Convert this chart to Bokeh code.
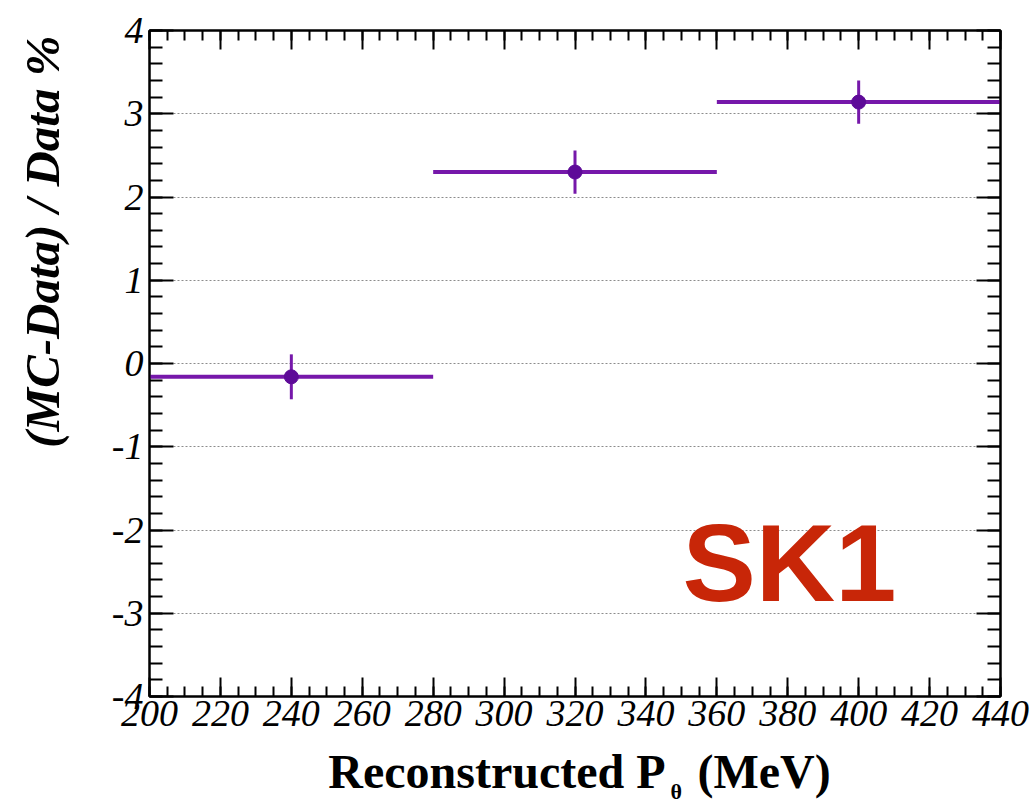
from bokeh.plotting import figure
from bokeh.models import Range1d, FixedTicker, LinearAxis, Title
from bokeh.layouts import column
from bokeh.core.properties import value
from bokeh.embed import file_html
from bokeh.resources import INLINE

# ---- data ----
bin_lo = [200, 280, 360]
bin_hi = [280, 360, 440]
bin_center = [240, 320, 400]
ratio = [-0.16, 2.30, 3.14]
ratio_err = [0.27, 0.26, 0.26]

x_major = list(range(200, 441, 20))
x_minor = list(range(200, 441, 5))
y_major = list(range(-4, 5))
y_minor = [round(-4 + 0.2 * i, 1) for i in range(41)]
y_labels = {t: str(t) for t in y_major}  # ASCII hyphen minus like the original

PURPLE = "#7618aa"
RED = "#c82608"
SERIF = "Liberation Serif"

MAIN_H = 744
p = figure(width=1033, height=MAIN_H, output_backend="svg", toolbar_location=None,
           x_range=Range1d(200, 440), y_range=Range1d(-4, 4),
           min_border_left=149, min_border_right=33, min_border_top=30,
           min_border_bottom=MAIN_H - 696,
           background_fill_color="white", border_fill_color="white")
p.outline_line_color = "black"
p.outline_line_width = 2

# axes
p.xaxis.ticker = FixedTicker(ticks=x_major, minor_ticks=x_minor)
p.yaxis.ticker = FixedTicker(ticks=y_major, minor_ticks=y_minor)
p.yaxis.major_label_overrides = y_labels
for ax in (p.xaxis[0], p.yaxis[0]):
    ax.axis_line_color = "black"
    ax.axis_line_width = 2
    ax.major_tick_out = 0
    ax.minor_tick_out = 0
    ax.major_tick_line_color = "black"
    ax.minor_tick_line_color = "black"
    ax.major_tick_line_width = 2
    ax.minor_tick_line_width = 2
    ax.major_label_text_font = SERIF
    ax.major_label_text_font_style = "italic"
    ax.major_label_text_font_size = "38px"
    ax.major_label_text_color = "black"
p.xaxis.major_tick_in = 19
p.xaxis.minor_tick_in = 10
p.yaxis.major_tick_in = 24
p.yaxis.minor_tick_in = 13
p.xaxis.major_label_standoff = 4
p.yaxis.major_label_standoff = 6

top_ax = LinearAxis(ticker=FixedTicker(ticks=x_major, minor_ticks=x_minor),
                    major_label_text_font_size="1px", major_label_text_color=None,
                    major_label_text_alpha=0, major_label_standoff=0,
                    major_tick_out=0, minor_tick_out=0,
                    major_tick_in=19, minor_tick_in=10, major_tick_line_width=2,
                    minor_tick_line_width=2, axis_line_width=2)
right_ax = LinearAxis(ticker=FixedTicker(ticks=y_major, minor_ticks=y_minor),
                      major_label_text_font_size="1px", major_label_text_color=None,
                      major_label_text_alpha=0, major_label_standoff=0,
                      major_tick_out=0, minor_tick_out=0,
                      major_tick_in=24, minor_tick_in=13, major_tick_line_width=2,
                      minor_tick_line_width=2, axis_line_width=2)
p.add_layout(top_ax, "above")
p.add_layout(right_ax, "right")

# invisible spacer between the y tick labels and the y title:
# one white (invisible) outward tick at the bottom, unlabeled
spacer = LinearAxis(ticker=FixedTicker(ticks=[-4], minor_ticks=[]), axis_line_color=None,
                    major_tick_line_color="white", major_tick_line_width=1,
                    minor_tick_line_color=None,
                    major_tick_out=36, major_tick_in=0, minor_tick_out=0, minor_tick_in=0,
                    major_label_text_color=None, major_label_text_alpha=0,
                    major_label_text_font_size="1px", major_label_standoff=0)
p.add_layout(spacer, "left")

# y title (top aligned, as in the original)
ytitle = Title(text="(MC-Data) / Data %", align="right", vertical_align="bottom",
               offset=5, standoff=6,
               text_font=SERIF, text_font_style="bold italic", text_font_size="49px",
               text_color="black")
p.add_layout(ytitle, "left")

# grid
p.xgrid.visible = False
p.ygrid.ticker = FixedTicker(ticks=y_major)
p.ygrid.grid_line_color = "#8c8c8c"
p.ygrid.grid_line_dash = "2 2"
p.ygrid.grid_line_width = 1

# data marks
p.segment(x0=bin_lo, y0=ratio, x1=bin_hi, y1=ratio, line_color=PURPLE, line_width=4)
p.segment(x0=bin_center, y0=[v - e for v, e in zip(ratio, ratio_err)],
          x1=bin_center, y1=[v + e for v, e in zip(ratio, ratio_err)],
          line_color=PURPLE, line_width=3)
p.scatter(x=bin_center, y=ratio, marker="circle", size=14, fill_color="#5e0a98",
          line_color="#5e0a98")


# pixel -> data helpers for placing the tag text
def dx(px):
    return 200 + (px - 149) * 240.0 / 851.0


def dy(py):
    return 4 - (py - 30) * 8.0 / 666.0


p.text(x=[dx(682)], y=[dy(562)], text=["SK1"], text_font=value("Liberation Sans"),
       text_font_style="bold", text_font_size="110px", text_color=RED,
       text_align="left", text_baseline="alphabetic")

# x title strip (with subscript theta); its frame lines up with the main frame,
# so its x coordinates are page pixels and y = 803 - page row
TH = 803 - MAIN_H
t = figure(width=1033, height=TH, output_backend="svg", toolbar_location=None,
           x_range=Range1d(149, 1000), y_range=Range1d(0, TH),
           x_axis_type=None, y_axis_type=None,
           min_border_left=149, min_border_right=33, min_border_top=0, min_border_bottom=0,
           background_fill_color="white", border_fill_color="white")
t.outline_line_color = None
t.grid.visible = False
t.text(x=[665], y=[32], text=["Reconstructed P"], text_font=value(SERIF),
       text_font_style="bold", text_font_size="48px", text_color="black",
       text_align="right", text_baseline="alphabetic")
t.text(x=[670], y=[12], text=["θ"], text_font=value(SERIF),
       text_font_style="bold", text_font_size="22px", text_color="black",
       text_align="left", text_baseline="alphabetic")
t.text(x=[697], y=[32], text=["(MeV)"], text_font=value(SERIF),
       text_font_style="bold", text_font_size="48px", text_color="black",
       text_align="left", text_baseline="alphabetic")

layout = column(p, t, spacing=0)
open("out.html", "w").write(file_html(layout, INLINE))
